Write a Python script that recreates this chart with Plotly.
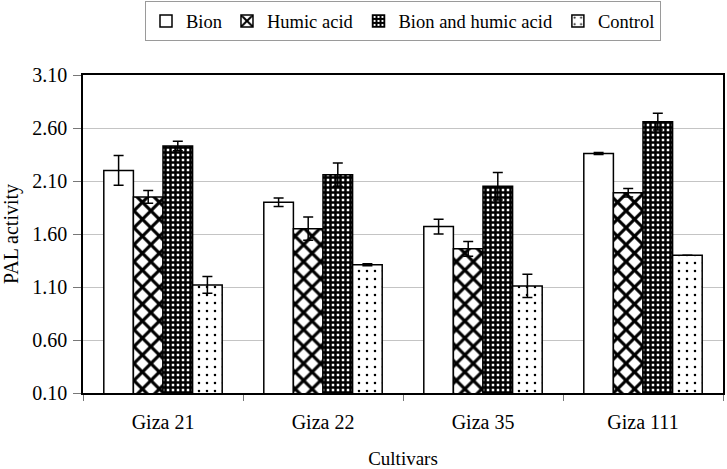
import plotly.graph_objects as go

cultivars = ["Giza 21", "Giza 22", "Giza 35", "Giza 111"]
series_names = ["Bion", "Humic acid", "Bion and humic acid", "Control"]
bion = [2.20, 1.90, 1.67, 2.36]
bion_err = [0.14, 0.04, 0.07, 0.01]
humic = [1.95, 1.65, 1.46, 1.99]
humic_err = [0.06, 0.11, 0.07, 0.04]
bion_humic = [2.43, 2.16, 2.05, 2.66]
bion_humic_err = [0.045, 0.11, 0.13, 0.08]
control = [1.12, 1.31, 1.11, 1.40]
control_err = [0.08, 0.01, 0.11, 0.0]
y_ticks = [0.10, 0.60, 1.10, 1.60, 2.10, 2.60, 3.10]

FONT = "Liberation Serif"

patterns = [
    dict(shape="", bgcolor="white"),
    dict(shape="x", fgcolor="black", bgcolor="white", size=12, solidity=0.45, fillmode="replace"),
    dict(shape="+", fgcolor="black", bgcolor="white", size=5, solidity=0.75, fillmode="replace"),
    dict(shape=".", fgcolor="black", bgcolor="white", size=8, solidity=0.08, fillmode="replace"),
]
values = [bion, humic, bion_humic, control]
errors = [bion_err, humic_err, bion_humic_err, control_err]

fig = go.Figure()
for name, vals, errs, pat in zip(series_names, values, errors, patterns):
    fig.add_trace(go.Bar(
        name=name, x=cultivars, y=vals,
        marker=dict(color="white", line=dict(color="black", width=1.5), pattern=pat),
        error_y=dict(type="data", array=errs, color="black", thickness=1.5, width=5),
    ))

fig.update_layout(
    template="none",
    width=727, height=469,
    margin=dict(l=83, r=4, t=75, b=76, autoexpand=False),
    paper_bgcolor="white", plot_bgcolor="white",
    font=dict(family=FONT, size=19, color="black"),
    barmode="group", bargap=0.26, bargroupgap=0,
    legend=dict(orientation="h", x=0.5, xanchor="center", xref="paper",
                y=0.997, yref="container", yanchor="top",
                bordercolor="#9a9a9a", borderwidth=1,
                font=dict(family=FONT, size=18.5, color="black"), itemwidth=30,
                traceorder="normal", tracegroupgap=0),
    showlegend=True,
)
fig.update_xaxes(
    type="category", showline=True, linecolor="black", linewidth=1.5, mirror=True,
    ticks="outside", tickson="boundaries", ticklen=6, tickcolor="#777",
    ticklabelstandoff=10,
    tickfont=dict(family=FONT, size=20, color="black"),
    showgrid=False, zeroline=False, automargin=False,
    title=dict(text="Cultivars", font=dict(family=FONT, size=19, color="black"), standoff=21),
)
fig.update_yaxes(
    range=[0.1, 3.1], tickvals=y_ticks, ticktext=[f"{v:.2f}" for v in y_ticks],
    showline=True, linecolor="black", linewidth=1.5, mirror=True,
    ticks="outside", ticklen=8, tickcolor="#777",
    ticklabelstandoff=2,
    tickfont=dict(family=FONT, size=20, color="black"),
    showgrid=True, gridcolor="#c4c4c4", gridwidth=1, zeroline=False, automargin=False,
    title=dict(text="PAL activity", font=dict(family=FONT, size=20, color="black"), standoff=10),
)

fig.write_html("out.html", config={"displayModeBar": False},
               post_script="document.body.style.margin='0';")
